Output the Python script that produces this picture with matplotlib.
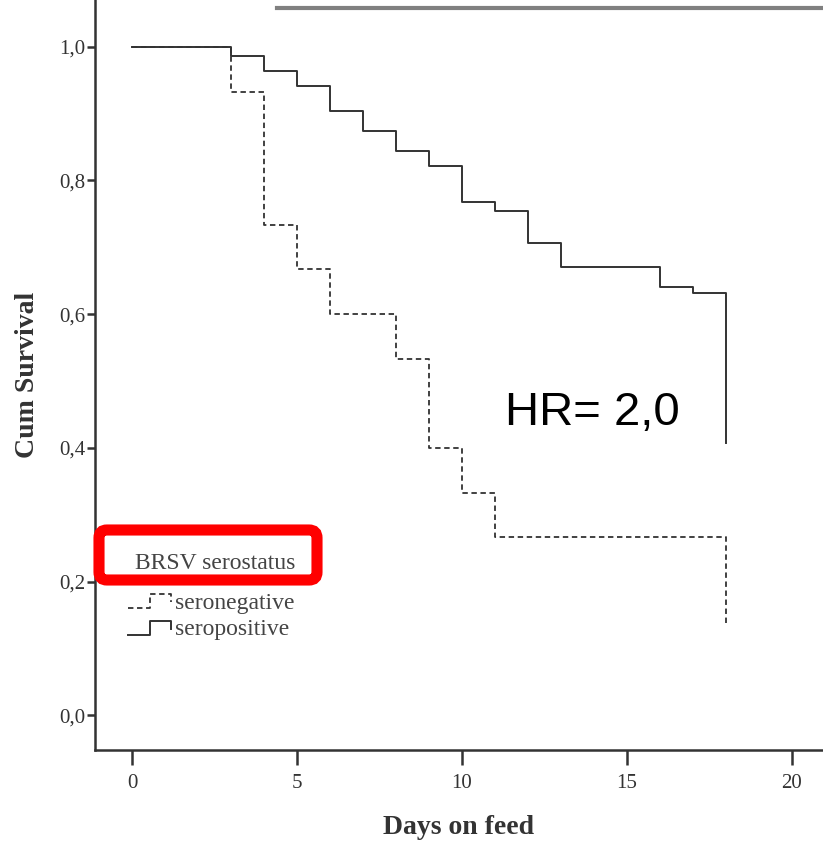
import matplotlib.pyplot as plt
from matplotlib.patches import FancyBboxPatch
from matplotlib.lines import Line2D
from matplotlib.transforms import IdentityTransform

# Kaplan-Meier steps
days_pos = [0, 3, 4, 5, 6, 7, 8, 9, 10, 11, 12, 13, 16, 17, 18]
surv_pos = [1.0, 0.986, 0.964, 0.941, 0.904, 0.874, 0.844, 0.822, 0.768,
            0.754, 0.707, 0.670, 0.641, 0.632, 0.407]
days_neg = [0, 3, 4, 5, 6, 8, 9, 10, 11, 18]
surv_neg = [1.0, 0.933, 0.733, 0.667, 0.600, 0.533, 0.400, 0.333, 0.267, 0.133]

x_ticks = [0, 5, 10, 15, 20]
y_ticks = [0.0, 0.2, 0.4, 0.6, 0.8, 1.0]
y_labels = ['0,0', '0,2', '0,4', '0,6', '0,8', '1,0']

serif = ['Liberation Serif', 'DejaVu Serif']
ink = '#333333'

fig = plt.figure(figsize=(8.23, 8.41), dpi=100)
ax = fig.add_axes([95 / 823, 91 / 841, 728 / 823, 750 / 841])

ax.step(days_neg, surv_neg, where='post', color=ink, lw=1.3, linestyle=(0, (3, 2)))
ax.step(days_pos, surv_pos, where='post', color=ink, lw=1.4)

ax.set_xlim(-1.12, 20.94)
ax.set_ylim(-0.052, 1.070)

ax.spines['top'].set_visible(False)
ax.spines['right'].set_visible(False)
for s in ['left', 'bottom']:
    ax.spines[s].set_color(ink)
    ax.spines[s].set_linewidth(1.8)

ax.set_xticks(x_ticks)
ax.set_xticklabels([str(t) for t in x_ticks], fontfamily=serif, fontsize=15, color=ink)
ax.set_yticks(y_ticks)
ax.set_yticklabels(y_labels, fontfamily=serif, fontsize=15, color=ink)
ax.tick_params(axis='x', length=11, width=1.8, color=ink, pad=6)
ax.tick_params(axis='y', length=6, width=1.8, color=ink, pad=1)

ax.set_xlabel('Days on feed', fontfamily=serif, fontsize=20, fontweight='bold', color=ink, labelpad=16)
ax.set_ylabel('Cum Survival', fontfamily=serif, fontsize=20, fontweight='bold', color=ink, labelpad=14)

# HR annotation
ax.text(0.683, 0.449, 'HR= 2,0', transform=ax.transAxes, fontfamily=['Liberation Sans', 'DejaVu Sans'],
        fontsize=34, color='black', ha='center', va='center')

# legend drawn by hand (SPSS style)
ax.text(0.165, 0.249, 'BRSV serostatus', transform=ax.transAxes, fontfamily=serif,
        fontsize=17, color='#444444', ha='center', va='center')
ax.text(0.110, 0.196, 'seronegative', transform=ax.transAxes, fontfamily=serif,
        fontsize=17, color='#444444', ha='left', va='center')
ax.text(0.110, 0.160, 'seropositive', transform=ax.transAxes, fontfamily=serif,
        fontsize=17, color='#444444', ha='left', va='center')
sx = [0.045, 0.075, 0.075, 0.105, 0.105]
ax.plot(sx, [0.190, 0.190, 0.208, 0.208, 0.198], transform=ax.transAxes,
        color=ink, lw=1.3, linestyle=(0, (3, 2)), clip_on=False)
ax.plot(sx, [0.154, 0.154, 0.172, 0.172, 0.162], transform=ax.transAxes,
        color=ink, lw=1.4, clip_on=False)

# red highlight box around legend title
box = FancyBboxPatch((99, 261), 218, 50, boxstyle='round,pad=0,rounding_size=8',
                     transform=IdentityTransform(), fill=False, edgecolor='#ff0000', lw=8)
fig.add_artist(box)

# grey rule along the top edge
fig.add_artist(Line2D([277 / 823, 1.0], [1 - 8 / 841, 1 - 8 / 841], transform=fig.transFigure,
                      color='#808080', lw=3))

fig.savefig('out.png', dpi=100)
